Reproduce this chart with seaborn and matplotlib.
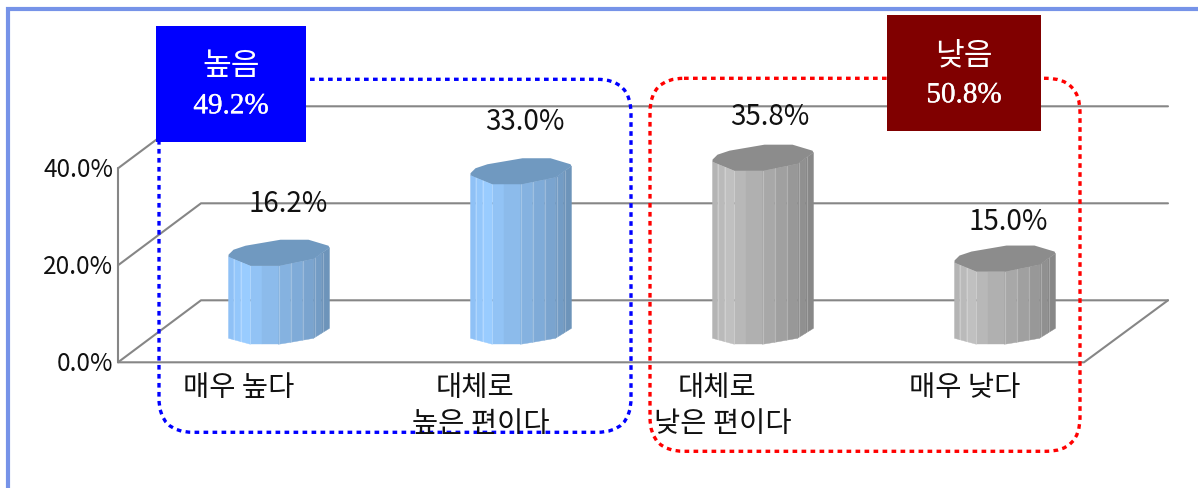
import numpy as np
import pandas as pd
import seaborn as sns
import matplotlib.pyplot as plt
import matplotlib.patheffects as pe
from matplotlib.patches import FancyBboxPatch, Polygon, Rectangle
from matplotlib.transforms import Affine2D

categories = ["매우 높다", "대체로\n높은 편이다", "대체로\n낮은 편이다", "매우 낮다"]
values = [16.2, 33.0, 35.8, 15.0]
value_labels = ["16.2%", "33.0%", "35.8%", "15.0%"]
axis_ticks = [0, 20, 40]
axis_tick_labels = ["0.0%", "20.0%", "40.0%"]
group_names = ["높음", "낮음"]
group_totals = ["49.2%", "50.8%"]

W, H = 1198, 489
PX_PER_UNIT = 4.85
BASE_Y = 331
BAR_X = 279
BAR_STEP = 242
BAR_W = 101

# outline of the faceted cylinder, in pixels from the bar's left edge / level
edge_x = [0, 22, 51, 85, 101]
top_edge = [4, 13, 13, 6, -5]
bottom_edge = [7, 13, 13, 7, -3]
cap_outline = [(0, 4), (22, 13), (51, 13), (85, 6), (101, -5), (100, -7), (80, -13),
               (52, -13), (17, -7), (5, -3), (2, 0), (0, 2)]
facets = [0, 5, 12, 22, 33, 50, 62, 74, 85, 93, 101]
blue_faces = ["#8fc1f6", "#94c7fb", "#99ccff", "#92c3f5", "#8cbbeb", "#85b2e0",
              "#7fabd8", "#7aa4cf", "#739cc5", "#6d94ba"]
grey_faces = ["#b4b4b4", "#bababa", "#c0c0c0", "#b8b8b8", "#b0b0b0", "#a8a8a8",
              "#a0a0a0", "#989898", "#909090", "#888888"]
highlights = [5, 12, 50, 62, 74, 86, 94]

sns.set_theme(style="white")
plt.rcParams["font.family"] = ["Noto Sans CJK KR", "DejaVu Sans"]

f, ax = plt.subplots(figsize=(W / 100, H / 100), dpi=100)
ax.set_position([0, -1.3 / H, 1, 1])
df = pd.DataFrame({"category": categories, "value": values})
sns.barplot(data=df, x="category", y="value", hue="category",
            palette=["#7099c0", "#7099c0", "#8c8c8c", "#8c8c8c"],
            width=BAR_W / BAR_STEP, legend=False, ax=ax, zorder=3, saturation=1)
ax.set_xlim(-BAR_X / BAR_STEP, (W - BAR_X) / BAR_STEP)
ax.set_ylim((BASE_Y - H) / PX_PER_UNIT, BASE_Y / PX_PER_UNIT)
ax.set_axis_off()

# pixel coordinates of the picture, for frame, walls and annotations
pix = Affine2D().scale(1 / W, -1 / H).translate(0, 1) + ax.transAxes

# outer frame
ax.plot([8, 8, W], [H + 2, 9, 9], color="#7693e8", lw=3, transform=pix,
        solid_joinstyle="miter", clip_on=False)

# walls and floor of the 3D box
wall = dict(color="#868686", lw=1.5, transform=pix, zorder=1)
for t in axis_ticks:
    front = 362 - t * PX_PER_UNIT
    ax.plot([118, 201, 1168], [front, front - 62, front - 62], **wall)
ax.plot([118, 118], [362, 168], **wall)
ax.plot([118, 1084, 1168], [362, 362, 300], **wall)

for t, lab in zip(axis_ticks, axis_tick_labels):
    ax.text(113, 363 - t * PX_PER_UNIT, lab, transform=pix, ha="right", va="center",
            fontsize=17.5, color="#111111")

# cylinders, built on the bars that seaborn drew
for i, bar in enumerate(ax.patches[:len(values)]):
    x0, w, h = bar.get_x(), bar.get_width(), bar.get_height()
    faces = blue_faces if i < 2 else grey_faces
    bx = lambda d: x0 + np.asarray(d) * w / BAR_W
    for a, b, c in zip(facets[:-1], facets[1:], faces):
        ax.add_patch(Polygon(
            [(bx(a), h - np.interp(a, edge_x, top_edge) / PX_PER_UNIT),
             (bx(b), h - np.interp(b, edge_x, top_edge) / PX_PER_UNIT),
             (bx(b), -np.interp(b, edge_x, bottom_edge) / PX_PER_UNIT),
             (bx(a), -np.interp(a, edge_x, bottom_edge) / PX_PER_UNIT)],
            fc=c, ec=c, lw=0.3, zorder=4))
    for d in highlights:
        ax.plot([bx(d), bx(d)],
                [h - np.interp(d, edge_x, top_edge) / PX_PER_UNIT,
                 -np.interp(d, edge_x, bottom_edge) / PX_PER_UNIT],
                color="white", alpha=0.25, lw=0.8, zorder=5)
    cap = Polygon([(bx(a), h - b / PX_PER_UNIT) for a, b in cap_outline],
                  fc=bar.get_facecolor(), ec="none", zorder=6)
    ax.add_patch(cap)
    bar.set_clip_path(cap)

# value labels
label_x = [288, 525, 770, 1008]
label_y = [203, 121, 116, 221]
for x, y, lab in zip(label_x, label_y, value_labels):
    ax.text(x, y, lab, transform=pix, ha="center", va="center", fontsize=20,
            color="#111111", zorder=9)

# category labels, line by line since the first line of two sits further left
for i, lab in enumerate(categories):
    lines = lab.split("\n")
    for j, line in enumerate(lines):
        shift = -46 if len(lines) == 2 and j == 0 else -40
        ax.text(BAR_X + i * BAR_STEP + shift, 387 + 36 * j, line, transform=pix,
                ha="center", va="center", fontsize=20.5, color="#111111", zorder=9)

# dotted group outlines
for (x, y, w, h), c in [((159, 79, 472, 353), "#0000ff"), ((650, 78, 430, 373), "#ff0000")]:
    ax.add_patch(FancyBboxPatch((x, y), w, h, boxstyle="round,pad=0,rounding_size=34",
                                fc="none", ec=c, lw=2.4, linestyle=(0, (1.4, 1.3)),
                                transform=pix, zorder=7))

# group boxes
stroke = [pe.withStroke(linewidth=0.25, foreground="white")]
boxes = [(156, 26, 150, 116, "#0000ff"), (887, 15, 154, 116, "#800000")]
for (x, y, w, h, c), name, total in zip(boxes, group_names, group_totals):
    ax.add_patch(Rectangle((x, y), w, h, fc=c, ec="none", transform=pix, zorder=8))
    ax.text(x + w / 2, y + 39, name, transform=pix, ha="center", va="center", color="white",
            fontsize=22.5, zorder=9)
    ax.text(x + w / 2, y + 80, total, transform=pix, ha="center", va="center", color="white",
            family=["Liberation Serif", "DejaVu Sans"], fontsize=21, zorder=9,
            path_effects=stroke)

f.savefig("out.png", dpi=100)
